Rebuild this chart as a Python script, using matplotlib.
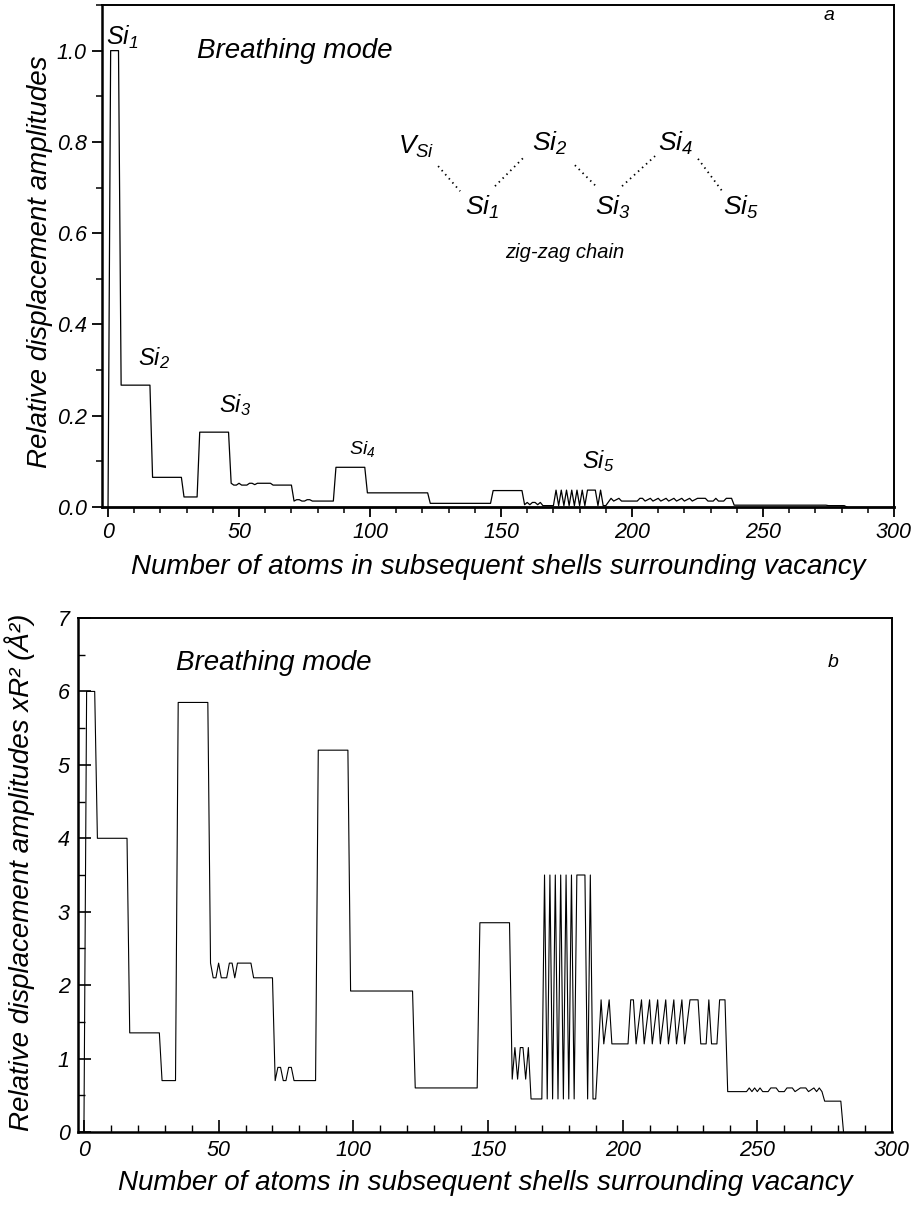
import matplotlib
matplotlib.use("Agg")
import matplotlib.pyplot as plt
from matplotlib.ticker import MultipleLocator, FormatStrFormatter

plt.rcParams['font.family'] = ['Liberation Sans', 'DejaVu Sans']
plt.rcParams['font.style'] = 'italic'
plt.rcParams['mathtext.fontset'] = 'custom'
plt.rcParams['mathtext.it'] = 'Liberation Sans:italic'
plt.rcParams['mathtext.rm'] = 'Liberation Sans:italic'
plt.rcParams['mathtext.sf'] = 'Liberation Sans:italic'

# ---------------- data: panel a (relative displacement amplitudes) -------------
top_x = [0, 1, 4, 5, 16, 17, 28, 29, 34, 35, 46,
         47, 48, 49, 50, 51, 53, 54, 55, 56, 57, 62, 63, 70,
         71, 72, 73, 74, 75, 76, 77, 78, 86,
         87, 98, 99, 122, 123, 146, 147, 158,
         159, 160, 161, 162, 163, 164, 165, 166, 170,
         171, 172, 173, 174, 175, 176, 177, 178, 179, 180, 181, 182, 183, 186, 187, 188, 189, 190,
         192, 193, 195, 196, 202, 203, 204, 205, 207, 208, 210, 211, 213, 214, 216, 217, 219, 220,
         222, 223, 225, 228, 229, 231, 232, 233, 235, 236, 238,
         239, 274, 275, 281, 282]
top_y = [0.0, 1.0, 1.0, 0.267, 0.267, 0.065, 0.065, 0.022, 0.022, 0.164, 0.164,
         0.052, 0.048, 0.048, 0.052, 0.048, 0.048, 0.052, 0.052, 0.049, 0.052, 0.052, 0.048, 0.048,
         0.013, 0.016, 0.016, 0.013, 0.013, 0.016, 0.016, 0.013, 0.013,
         0.087, 0.087, 0.031, 0.031, 0.008, 0.008, 0.036, 0.036,
         0.005, 0.010, 0.005, 0.010, 0.010, 0.005, 0.010, 0.003, 0.003,
         0.037, 0.003, 0.037, 0.003, 0.037, 0.003, 0.037, 0.003, 0.037, 0.003, 0.037, 0.003, 0.037, 0.037, 0.003, 0.037, 0.003, 0.003,
         0.019, 0.013, 0.019, 0.013, 0.013, 0.019, 0.019, 0.013, 0.019, 0.013, 0.019, 0.013, 0.019, 0.013, 0.019, 0.013, 0.019, 0.013,
         0.019, 0.013, 0.019, 0.019, 0.013, 0.013, 0.019, 0.013, 0.013, 0.019, 0.019,
         0.004, 0.004, 0.003, 0.003, 0.0]

# ---------------- data: panel b (amplitudes x R^2) ------------------------------
bot_x = [0, 1, 4, 5, 16, 17, 28, 29, 34, 35, 46,
         47, 48, 49, 50, 51, 53, 54, 55, 56, 57, 62, 63, 70,
         71, 72, 73, 74, 75, 76, 77, 78, 86,
         87, 98, 99, 122, 123, 146, 147, 158,
         159, 160, 161, 162, 163, 164, 165, 166, 170,
         171, 172, 173, 174, 175, 176, 177, 178, 179, 180, 181, 182, 183, 186, 187, 188, 189, 190,
         192, 193, 195, 196, 202, 203, 204, 205, 207, 208, 210, 211, 213, 214, 216, 217, 219, 220,
         222, 223, 225, 228, 229, 231, 232, 233, 235, 236, 238,
         239, 246, 247, 248, 249, 250, 251, 252, 254, 255, 257, 258, 260, 261, 263, 264,
         266, 268, 269, 271, 272, 273, 274, 275, 281, 282]
bot_y = [0.0, 6.0, 6.0, 4.0, 4.0, 1.35, 1.35, 0.7, 0.7, 5.85, 5.85,
         2.3, 2.1, 2.1, 2.3, 2.1, 2.1, 2.3, 2.3, 2.1, 2.3, 2.3, 2.1, 2.1,
         0.7, 0.88, 0.88, 0.7, 0.7, 0.88, 0.88, 0.7, 0.7,
         5.2, 5.2, 1.92, 1.92, 0.6, 0.6, 2.85, 2.85,
         0.72, 1.15, 0.72, 1.15, 1.15, 0.72, 1.15, 0.45, 0.45,
         3.5, 0.45, 3.5, 0.45, 3.5, 0.45, 3.5, 0.45, 3.5, 0.45, 3.5, 0.45, 3.5, 3.5, 0.45, 3.5, 0.45, 0.45,
         1.8, 1.2, 1.8, 1.2, 1.2, 1.8, 1.8, 1.2, 1.8, 1.2, 1.8, 1.2, 1.8, 1.2, 1.8, 1.2, 1.8, 1.2,
         1.8, 1.2, 1.8, 1.8, 1.2, 1.2, 1.8, 1.2, 1.2, 1.8, 1.8,
         0.55, 0.55, 0.6, 0.55, 0.6, 0.55, 0.6, 0.55, 0.55, 0.6, 0.6, 0.55, 0.55, 0.6, 0.6, 0.55,
         0.6, 0.6, 0.55, 0.6, 0.55, 0.6, 0.55, 0.42, 0.42, 0.0]

x_ticks = [0, 50, 100, 150, 200, 250, 300]
top_yticks = [0.0, 0.2, 0.4, 0.6, 0.8, 1.0]
bot_yticks = [0, 1, 2, 3, 4, 5, 6, 7]

# peak labels (panel a): text, x, y, size
shell_labels = [(r'$Si_{1}$', -0.8, 1.012, 18),
                (r'$Si_{2}$', 11.3, 0.311, 17),
                (r'$Si_{3}$', 42.2, 0.209, 17),
                (r'$Si_{4}$', 92.0, 0.117, 14),
                (r'$Si_{5}$', 181.0, 0.086, 17)]

# zig-zag chain sketch (panel a)
chain_labels = [(r'$V_{Si}$', 110.7, 0.789),
                (r'$Si_{1}$', 136.3, 0.657),
                (r'$Si_{2}$', 161.7, 0.796),
                (r'$Si_{3}$', 185.9, 0.657),
                (r'$Si_{4}$', 209.9, 0.796),
                (r'$Si_{5}$', 234.7, 0.657)]
chain_links = [((126.0, 134.4), (0.747, 0.692)),
               ((147.7, 159.2), (0.703, 0.769)),
               ((178.2, 185.9), (0.749, 0.705)),
               ((196.2, 208.8), (0.703, 0.769)),
               ((225.2, 234.7), (0.763, 0.690))]

W, H = 916, 1207
fig = plt.figure(figsize=(W / 100, H / 100), dpi=100)

ax1 = fig.add_axes([102 / W, 1 - 507 / H, (894 - 102) / W, (507 - 5) / H])
ax2 = fig.add_axes([78 / W, 1 - 1132 / H, (892 - 78) / W, (1132 - 618) / H])

lab_fs = 20
tick_fs = 15.5

# ---- panel a
ax1.plot(top_x, top_y, color='black', lw=0.9)
ax1.set_xlim(-2.3, 300)
ax1.set_ylim(0, 1.1)
ax1.set_xticks(x_ticks)
ax1.set_yticks(top_yticks)
ax1.xaxis.set_minor_locator(MultipleLocator(10))
ax1.yaxis.set_minor_locator(MultipleLocator(0.1))
ax1.yaxis.set_major_formatter(FormatStrFormatter('%.1f'))
ax1.tick_params(which='major', direction='out', length=7, width=1.3, labelsize=tick_fs, pad=4)
ax1.tick_params(which='minor', direction='out', length=4, width=1.1)
for s in ax1.spines.values():
    s.set_linewidth(1.4)
ax1.spines['bottom'].set_linewidth(2.0)
ax1.spines['left'].set_linewidth(1.8)
ax1.set_xlabel('Number of atoms in subsequent shells surrounding vacancy', fontsize=lab_fs, labelpad=8)
fig.text(40 / W, 1 - 262 / H, 'Relative displacement amplitudes', rotation=90,
         fontsize=lab_fs, ha='center', va='center')

ax1.text(34, 1.0, 'Breathing mode', fontsize=20, ha='left', va='center')
ax1.text(273, 1.077, 'a', fontsize=14, ha='left', va='center')
for txt, x, y, fs in shell_labels:
    ax1.text(x, y, txt, fontsize=fs, ha='left', va='baseline')
for txt, x, y in chain_labels:
    ax1.text(x, y, txt, fontsize=19, ha='left', va='center')
for xs, ys in chain_links:
    ax1.plot(xs, ys, color='black', lw=1.3, linestyle=(0, (0.8, 2.2)))
ax1.text(174.4, 0.558, 'zig-zag chain', fontsize=14.5, ha='center', va='center')

# ---- panel b
ax2.plot(bot_x, bot_y, color='black', lw=0.8)
ax2.set_xlim(-2.2, 300)
ax2.set_ylim(0, 7)
ax2.set_xticks(x_ticks)
ax2.set_yticks(bot_yticks)
ax2.xaxis.set_minor_locator(MultipleLocator(10))
ax2.yaxis.set_minor_locator(MultipleLocator(0.5))
ax2.tick_params(which='major', direction='in', length=9, width=1.2, labelsize=tick_fs, pad=6)
ax2.tick_params(which='minor', direction='in', length=5, width=1.0)
for s in ax2.spines.values():
    s.set_linewidth(1.4)
ax2.spines['bottom'].set_linewidth(1.8)
ax2.spines['left'].set_linewidth(1.8)
ax2.set_xlabel('Number of atoms in subsequent shells surrounding vacancy', fontsize=lab_fs, labelpad=6)
fig.text(20 / W, 1 - 872 / H, 'Relative displacement amplitudes xR² (Å²)', rotation=90,
         fontsize=lab_fs, ha='center', va='center')
ax2.text(34, 6.39, 'Breathing mode', fontsize=20, ha='left', va='center')
ax2.text(276, 6.39, 'b', fontsize=14, ha='left', va='center')

fig.savefig('out.png', dpi=100)
